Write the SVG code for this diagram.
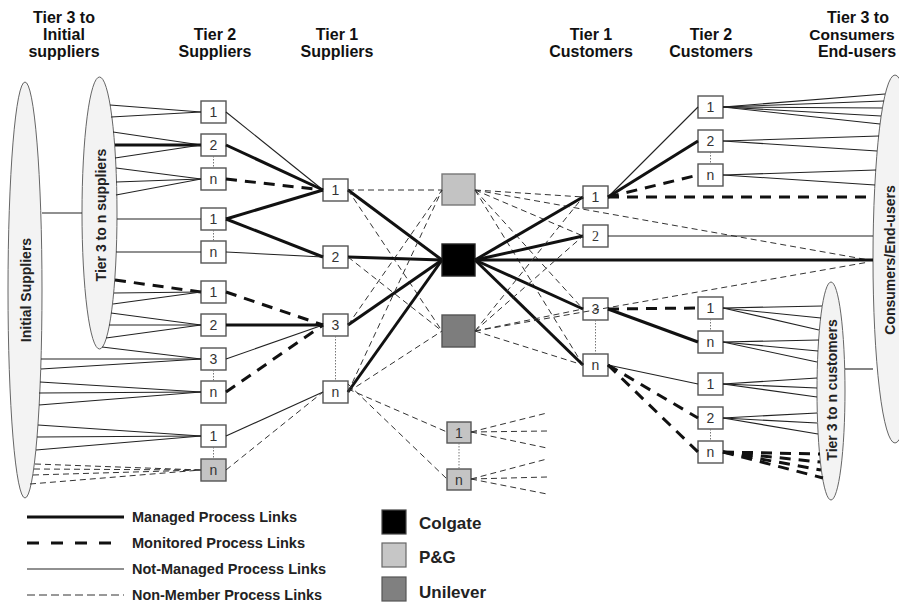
<svg xmlns="http://www.w3.org/2000/svg" width="899" height="604" viewBox="0 0 899 604">
<style>
.m{stroke:#111;stroke-width:3;fill:none}
.d{stroke:#111;stroke-width:3;stroke-dasharray:11 8;fill:none}
.t{stroke:#222;stroke-width:1.1;fill:none}
.x{stroke:#333;stroke-width:1;stroke-dasharray:6 4;fill:none}
.dot{stroke:#777;stroke-width:1;stroke-dasharray:1.5 1.5}
.box{fill:#fff;stroke:#555;stroke-width:1.4}
.gbox{fill:#c4c4c4;stroke:#555;stroke-width:1.4}
.ell{fill:#f3f3f3;stroke:#666;stroke-width:1}
.lbl{font-family:"Liberation Sans",Arial,sans-serif;font-size:14px;fill:#333;text-anchor:middle;dominant-baseline:central}
.hdr{font-family:"Liberation Sans",Arial,sans-serif;font-weight:bold;font-size:16px;fill:#111;text-anchor:middle}
.rot{font-family:"Liberation Sans",Arial,sans-serif;font-weight:bold;font-size:14px;fill:#222;text-anchor:middle;dominant-baseline:central}
.leg{font-family:"Liberation Sans",Arial,sans-serif;font-weight:bold;font-size:14px;fill:#222;dominant-baseline:central}
.co{font-family:"Liberation Sans",Arial,sans-serif;font-weight:bold;font-size:17px;fill:#222}
</style>
<rect width="899" height="604" fill="#fff"/>
<g id="headers">
<text class="hdr" x="64" y="23">Tier 3 to</text>
<text class="hdr" x="64" y="40">Initial</text>
<text class="hdr" x="64" y="57">suppliers</text>
<text class="hdr" x="215" y="40">Tier 2</text>
<text class="hdr" x="215" y="57">Suppliers</text>
<text class="hdr" x="337" y="40">Tier 1</text>
<text class="hdr" x="337" y="57">Suppliers</text>
<text class="hdr" x="591" y="40">Tier 1</text>
<text class="hdr" x="591" y="57">Customers</text>
<text class="hdr" x="711" y="40">Tier 2</text>
<text class="hdr" x="711" y="57">Customers</text>
<text class="hdr" x="858" y="23">Tier 3 to</text>
<text class="hdr" x="852" y="40" style="font-size:15.5px">Consumers</text>
<text class="hdr" x="857" y="57">End-users</text>
</g>
<g id="initial-suppliers"><ellipse class="ell" cx="25" cy="290" rx="17" ry="208"/><text class="rot" transform="translate(26,290) rotate(-90)">Initial Suppliers</text></g>
<g id="tier3-suppliers"><ellipse class="ell" cx="99.5" cy="213" rx="17.5" ry="136"/><text class="rot" transform="translate(101,215) rotate(-90)">Tier 3 to n suppliers</text></g>
<g id="consumers"><ellipse class="ell" cx="895" cy="259" rx="22" ry="184"/><text class="rot" transform="translate(890,260) rotate(-90)">Consumers/End-users</text></g>
<g id="tier3-customers"><ellipse class="ell" cx="831" cy="391" rx="14" ry="109"/><text class="rot" transform="translate(832,390) rotate(-90)">Tier 3 to n customers</text></g>

<g id="s2-1a"><rect class="box" x="201" y="101" width="25" height="22"/><text class="lbl" x="213.5" y="112">1</text></g>
<g id="s2-2a"><rect class="box" x="201" y="134" width="25" height="22"/><text class="lbl" x="213.5" y="145">2</text></g>
<g id="s2-na"><rect class="box" x="201" y="168" width="25" height="22"/><text class="lbl" x="213.5" y="179">n</text></g>
<g id="s2-1b"><rect class="box" x="201" y="208" width="25" height="22"/><text class="lbl" x="213.5" y="219">1</text></g>
<g id="s2-nb"><rect class="box" x="201" y="241" width="25" height="22"/><text class="lbl" x="213.5" y="252">n</text></g>
<g id="s2-1c"><rect class="box" x="201" y="281" width="25" height="22"/><text class="lbl" x="213.5" y="292">1</text></g>
<g id="s2-2c"><rect class="box" x="201" y="314" width="25" height="22"/><text class="lbl" x="213.5" y="325">2</text></g>
<g id="s2-3c"><rect class="box" x="201" y="348" width="25" height="22"/><text class="lbl" x="213.5" y="359">3</text></g>
<g id="s2-nc"><rect class="box" x="201" y="381" width="25" height="22"/><text class="lbl" x="213.5" y="392">n</text></g>
<g id="s2-1d"><rect class="box" x="201" y="425" width="25" height="22"/><text class="lbl" x="213.5" y="436">1</text></g>
<g id="s2-nd"><rect class="gbox" x="201" y="459" width="25" height="22"/><text class="lbl" x="213.5" y="470">n</text></g>

<g id="s1-1"><rect class="box" x="323" y="179" width="25" height="22"/><text class="lbl" x="335.5" y="190">1</text></g>
<g id="s1-2"><rect class="box" x="323" y="246" width="25" height="22"/><text class="lbl" x="335.5" y="257">2</text></g>
<g id="s1-3"><rect class="box" x="323" y="314" width="25" height="22"/><text class="lbl" x="335.5" y="325">3</text></g>
<g id="s1-n"><rect class="box" x="323" y="381" width="25" height="22"/><text class="lbl" x="335.5" y="392">n</text></g>

<g id="pg"><rect x="442" y="174" width="33" height="31" fill="#c3c3c3" stroke="#777" stroke-width="1.4"/></g>
<g id="colgate"><rect x="442" y="244" width="33" height="32" fill="#000" stroke="#222" stroke-width="1.4"/></g>
<g id="unilever"><rect x="442" y="315" width="33" height="32" fill="#7d7d7d" stroke="#555" stroke-width="1.4"/></g>
<g id="pg-1"><rect class="gbox" x="447" y="422" width="24" height="21"/><text class="lbl" x="459" y="432.5">1</text></g>
<g id="pg-n"><rect class="gbox" x="447" y="469" width="24" height="21"/><text class="lbl" x="459" y="479.5">n</text></g>

<g id="c1-1"><rect class="box" x="583" y="186" width="25" height="22"/><text class="lbl" x="595.5" y="197">1</text></g>
<g id="c1-2"><rect class="box" x="583" y="225" width="25" height="22"/><text class="lbl" x="595.5" y="236" style="font-family:'Liberation Serif',serif">2</text></g>
<g id="c1-3"><rect class="box" x="583" y="298" width="25" height="22"/><text class="lbl" x="595.5" y="309">3</text></g>
<g id="c1-n"><rect class="box" x="583" y="354" width="25" height="22"/><text class="lbl" x="595.5" y="365">n</text></g>

<g id="c2-1a"><rect class="box" x="698" y="96" width="25" height="22"/><text class="lbl" x="710.5" y="107">1</text></g>
<g id="c2-2a"><rect class="box" x="698" y="130" width="25" height="22"/><text class="lbl" x="710.5" y="141">2</text></g>
<g id="c2-na"><rect class="box" x="698" y="164" width="25" height="22"/><text class="lbl" x="710.5" y="175">n</text></g>
<g id="c2-1b"><rect class="box" x="698" y="297" width="25" height="22"/><text class="lbl" x="710.5" y="308">1</text></g>
<g id="c2-nb"><rect class="box" x="698" y="331" width="25" height="22"/><text class="lbl" x="710.5" y="342">n</text></g>
<g id="c2-1c"><rect class="box" x="698" y="373" width="25" height="22"/><text class="lbl" x="710.5" y="384">1</text></g>
<g id="c2-2c"><rect class="box" x="698" y="407" width="25" height="22"/><text class="lbl" x="710.5" y="418">2</text></g>
<g id="c2-nc"><rect class="box" x="698" y="441" width="25" height="22"/><text class="lbl" x="710.5" y="452">n</text></g>

<g id="connectors">
<line class="t" x1="42" y1="213" x2="82" y2="213"/>
<line class="t" x1="845" y1="369" x2="873" y2="369"/>
<line class="t" x1="110" y1="105" x2="201" y2="112"/>
<line class="t" x1="111" y1="117" x2="201" y2="112"/>
<line class="t" x1="113" y1="132" x2="201" y2="145"/>
<line class="m" x1="115" y1="145" x2="201" y2="145"/>
<line class="t" x1="115" y1="158" x2="201" y2="145"/>
<line class="t" x1="116" y1="168" x2="201" y2="179"/>
<line class="t" x1="116" y1="182" x2="201" y2="179"/>
<line class="t" x1="116" y1="195" x2="201" y2="179"/>
<line class="t" x1="117" y1="219" x2="201" y2="219"/>
<line class="t" x1="116" y1="252" x2="201" y2="252"/>
<line class="d" x1="115" y1="280" x2="201" y2="292"/>
<line class="t" x1="114" y1="293" x2="201" y2="292"/>
<line class="t" x1="113" y1="304" x2="201" y2="292"/>
<line class="t" x1="111" y1="313" x2="201" y2="325"/>
<line class="t" x1="109" y1="325" x2="201" y2="325"/>
<line class="t" x1="106" y1="338" x2="201" y2="325"/>
<line class="t" x1="102" y1="347" x2="201" y2="359"/>
<line class="t" x1="41" y1="359" x2="201" y2="359"/>
<line class="t" x1="41" y1="369" x2="201" y2="359"/>
<line class="t" x1="40" y1="382" x2="201" y2="392"/>
<line class="t" x1="39" y1="393" x2="201" y2="392"/>
<line class="t" x1="39" y1="405" x2="201" y2="392"/>
<line class="t" x1="38" y1="425" x2="201" y2="436"/>
<line class="t" x1="37" y1="437" x2="201" y2="436"/>
<line class="t" x1="36" y1="450" x2="201" y2="436"/>
<line class="x" x1="35" y1="464" x2="201" y2="470"/>
<line class="x" x1="34" y1="469" x2="201" y2="470"/>
<line class="x" x1="33" y1="475" x2="201" y2="470"/>
<line class="x" x1="30" y1="484" x2="201" y2="470"/>

<line class="t" x1="226" y1="112" x2="323" y2="190"/>
<line class="m" x1="226" y1="145" x2="323" y2="190"/>
<line class="d" x1="226" y1="179" x2="323" y2="190"/>
<line class="m" x1="226" y1="219" x2="323" y2="190"/>
<line class="m" x1="226" y1="219" x2="323" y2="257"/>
<line class="t" x1="226" y1="252" x2="323" y2="257"/>
<line class="d" x1="226" y1="292" x2="323" y2="325"/>
<line class="m" x1="226" y1="325" x2="323" y2="325"/>
<line class="t" x1="226" y1="359" x2="323" y2="325"/>
<line class="d" x1="226" y1="392" x2="323" y2="325"/>
<line class="t" x1="226" y1="436" x2="323" y2="392"/>
<line class="x" x1="226" y1="470" x2="323" y2="392"/>

<line class="x" x1="348" y1="190" x2="442" y2="190"/>
<line class="m" x1="348" y1="190" x2="442" y2="260"/>
<line class="x" x1="348" y1="190" x2="442" y2="331"/>
<line class="m" x1="348" y1="257" x2="442" y2="260"/>
<line class="x" x1="348" y1="257" x2="442" y2="331"/>
<line class="m" x1="348" y1="325" x2="442" y2="260"/>
<line class="x" x1="348" y1="325" x2="442" y2="190"/>
<line class="m" x1="348" y1="392" x2="442" y2="260"/>
<line class="x" x1="348" y1="392" x2="442" y2="190"/>
<line class="x" x1="348" y1="392" x2="442" y2="331"/>
<line class="x" x1="348" y1="389" x2="447" y2="432"/>
<line class="x" x1="348" y1="384" x2="447" y2="479"/>

<line class="x" x1="475" y1="190" x2="583" y2="197"/>
<line class="x" x1="475" y1="190" x2="583" y2="236"/>
<line class="x" x1="475" y1="190" x2="583" y2="309"/>
<line class="x" x1="475" y1="190" x2="583" y2="365"/>
<line class="x" x1="475" y1="190" x2="869" y2="260"/>
<line class="m" x1="475" y1="260" x2="583" y2="197"/>
<line class="m" x1="475" y1="260" x2="583" y2="236"/>
<line class="m" x1="475" y1="260" x2="873" y2="260"/>
<line class="m" x1="475" y1="260" x2="583" y2="309"/>
<line class="m" x1="475" y1="260" x2="583" y2="365"/>
<line class="x" x1="475" y1="331" x2="583" y2="197"/>
<line class="x" x1="475" y1="331" x2="583" y2="236"/>
<line class="x" x1="475" y1="331" x2="583" y2="309"/>
<line class="x" x1="475" y1="331" x2="583" y2="365"/>
<line class="x" x1="475" y1="331" x2="869" y2="262"/>

<line class="x" x1="471" y1="432" x2="547" y2="413"/>
<line class="x" x1="471" y1="432" x2="547" y2="431"/>
<line class="x" x1="471" y1="432" x2="547" y2="448"/>
<line class="x" x1="471" y1="479" x2="547" y2="459"/>
<line class="x" x1="471" y1="479" x2="547" y2="477"/>
<line class="x" x1="471" y1="479" x2="547" y2="494"/>

<line class="t" x1="608" y1="197" x2="698" y2="107"/>
<line class="m" x1="608" y1="197" x2="698" y2="141"/>
<line class="d" x1="608" y1="197" x2="698" y2="175"/>
<line class="d" x1="608" y1="197" x2="874" y2="197"/>
<line class="t" x1="608" y1="236" x2="873" y2="236"/>
<line class="d" x1="608" y1="309" x2="698" y2="308"/>
<line class="m" x1="608" y1="309" x2="698" y2="342"/>
<line class="t" x1="608" y1="365" x2="698" y2="384"/>
<line class="d" x1="608" y1="365" x2="698" y2="418"/>
<line class="d" x1="608" y1="365" x2="698" y2="452"/>

<line class="t" x1="723" y1="107" x2="885" y2="94"/>
<line class="t" x1="723" y1="107" x2="884" y2="101"/>
<line class="t" x1="723" y1="107" x2="882" y2="108"/>
<line class="t" x1="723" y1="107" x2="881" y2="116"/>
<line class="t" x1="723" y1="107" x2="880" y2="124"/>
<line class="t" x1="723" y1="141" x2="879" y2="136"/>
<line class="t" x1="723" y1="141" x2="877" y2="151"/>
<line class="t" x1="723" y1="175" x2="876" y2="170"/>
<line class="t" x1="723" y1="175" x2="875" y2="185"/>

<line class="t" x1="723" y1="308" x2="822" y2="306"/>
<line class="t" x1="723" y1="308" x2="821" y2="318"/>
<line class="t" x1="723" y1="308" x2="819" y2="330"/>
<line class="t" x1="723" y1="342" x2="819" y2="340"/>
<line class="t" x1="723" y1="342" x2="818" y2="351"/>
<line class="t" x1="723" y1="342" x2="817" y2="362"/>
<line class="t" x1="723" y1="384" x2="817" y2="378"/>
<line class="t" x1="723" y1="384" x2="817" y2="388"/>
<line class="t" x1="723" y1="384" x2="817" y2="397"/>
<line class="t" x1="723" y1="418" x2="817" y2="413"/>
<line class="t" x1="723" y1="418" x2="817" y2="423"/>
<line class="t" x1="723" y1="418" x2="818" y2="434"/>
<line class="d" x1="723" y1="452" x2="820" y2="454"/>
<line class="d" x1="723" y1="452" x2="820" y2="462"/>
<line class="d" x1="723" y1="452" x2="821" y2="470"/>
<line class="d" x1="723" y1="452" x2="823" y2="478"/>

<line class="dot" x1="213.5" y1="156" x2="213.5" y2="168"/>
<line class="dot" x1="213.5" y1="230" x2="213.5" y2="241"/>
<line class="dot" x1="213.5" y1="370" x2="213.5" y2="381"/>
<line class="dot" x1="213.5" y1="447" x2="213.5" y2="459"/>
<line class="dot" x1="335.5" y1="336" x2="335.5" y2="381"/>
<line class="dot" x1="459" y1="443" x2="459" y2="469"/>
<line class="dot" x1="595.5" y1="320" x2="595.5" y2="354"/>
<line class="dot" x1="710.5" y1="152" x2="710.5" y2="164"/>
<line class="dot" x1="710.5" y1="319" x2="710.5" y2="331"/>
<line class="dot" x1="710.5" y1="429" x2="710.5" y2="441"/>
</g>

<g id="legend">
<line class="m" x1="27" y1="517" x2="124" y2="517"/>
<text class="leg" x="132" y="517" textLength="165" lengthAdjust="spacingAndGlyphs">Managed Process Links</text>
<line x1="27" y1="543" x2="116" y2="543" stroke="#111" stroke-width="3" stroke-dasharray="12 12"/>
<text class="leg" x="132" y="543" textLength="173" lengthAdjust="spacingAndGlyphs">Monitored Process Links</text>
<line class="t" x1="27" y1="569" x2="124" y2="569"/>
<text class="leg" x="132" y="569" textLength="194" lengthAdjust="spacingAndGlyphs">Not-Managed Process Links</text>
<line x1="27" y1="595" x2="124" y2="595" stroke="#333" stroke-width="1" stroke-dasharray="8 4"/>
<text class="leg" x="132" y="595" textLength="190" lengthAdjust="spacingAndGlyphs">Non-Member Process Links</text>
<rect x="382" y="510" width="24" height="24" fill="#000" stroke="#444" stroke-width="1.2"/>
<text class="co" x="419" y="529">Colgate</text>
<rect x="382" y="543" width="24" height="24" fill="#c6c6c6" stroke="#666" stroke-width="1.2"/>
<text class="co" x="419" y="563">P&amp;G</text>
<rect x="382" y="577" width="24" height="24" fill="#808080" stroke="#555" stroke-width="1.2"/>
<text class="co" x="419" y="598">Unilever</text>
</g>
</svg>
